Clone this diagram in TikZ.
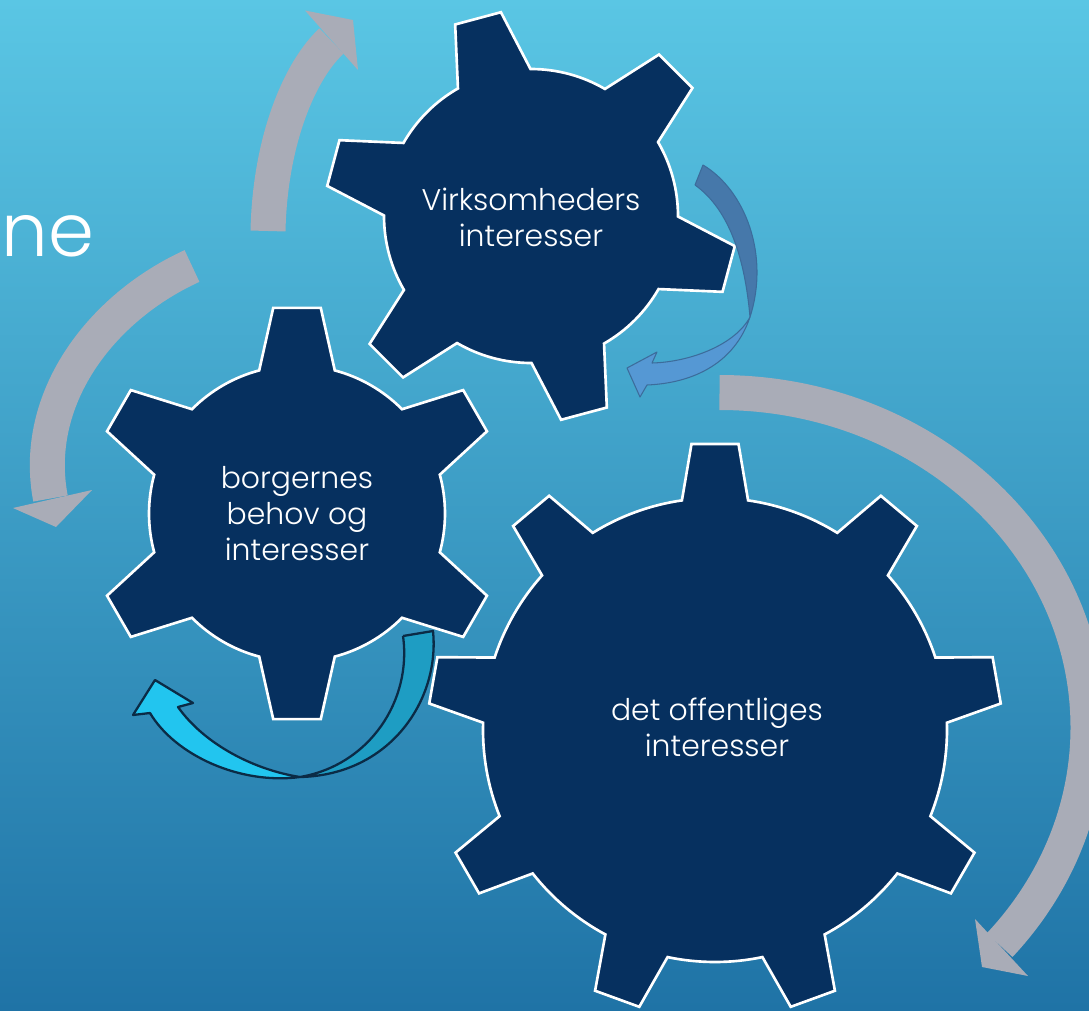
\documentclass[tikz,border=0pt]{standalone}
\usepackage{fontspec}
\setmainfont{Poppins Light}

\definecolor{bgTop}{HTML}{5AC6E4}
\definecolor{bgBot}{HTML}{1F73A6}
\definecolor{gearFill}{HTML}{06305F}
\definecolor{arrowGrey}{HTML}{A9ACB7}
\definecolor{blueBack}{HTML}{4678AA}
\definecolor{blueFront}{HTML}{5598D4}
\definecolor{blueEdge}{HTML}{3C6C9B}
\definecolor{cyanBack}{HTML}{1E9DC3}
\definecolor{cyanFront}{HTML}{22C5EF}
\definecolor{cyanEdge}{HTML}{0B2B46}

\tikzset{
  gearLine/.style={fill=gearFill, draw=white, line width=1.5pt, line join=miter},
  gearText/.style={text=white, align=center, font=\fontsize{17}{20.5}\selectfont},
  greyBand/.style={draw=arrowGrey, line width=0.7cm},
  greyHead/.style={fill=arrowGrey},
  blueTwist/.style={draw=blueEdge, line width=0.6pt, line join=round},
  cyanTwist/.style={draw=cyanEdge, line width=1.3pt, line join=round}
}

% gear: centre, first tooth angle, teeth, root radius, tip radius, base half angle, tip half angle
\newcommand{\drawGear}[7]{
  \begin{scope}[shift={(#1)}]
    \draw[gearLine] ({#2-#6}:#4)
      \foreach \k [evaluate=\k as \a using {#2+(\k-1)*360/#3}] in {1,...,#3} {
        -- ({\a-#6}:#4) -- ({\a-#7}:#5) -- ({\a+#7}:#5) -- ({\a+#6}:#4)
        arc[start angle={\a+#6}, end angle={\a+360/#3-#6}, radius=#4]
      } -- cycle;
  \end{scope}
}

\begin{document}
\begin{tikzpicture}[x=0.02cm, y=-0.02cm]

  % Background:
  \useasboundingbox (0,0) rectangle (1089,1011);
  \shade[top color=bgTop, bottom color=bgBot] (0,0) rectangle (1089,1011);
  \clip (0,0) rectangle (1089,1011);

  % Title rest:
  \node[text=white, anchor=base west, inner sep=0pt, font=\fontsize{42}{50}\selectfont] (titleEnd) at (1,256) {ne};

  % Gears:
  \coordinate (cVirk) at (531,216);
  \coordinate (cBorg) at (297,513.5);
  \coordinate (cOff)  at (715,730);
  \drawGear{cVirk}{255}{6}{147}{206}{14.8}{6.6}
  \drawGear{cBorg}{270}{6}{148}{207}{14.8}{6.6}
  \drawGear{cOff}{270}{9}{232}{287}{8.2}{4.7}

  % Labels:
  \node[gearText] (txtVirk) at (531,217) {Virksomheders\\interesser};
  \node[gearText] (txtBorg) at (297,514) {borgernes\\behov og\\interesser};
  \node[gearText] (txtOff)  at (717,727) {det offentliges\\interesser};

  % Grey arrows:
    % Top:
    \coordinate (upS) at (268,231);
    \coordinate (upE) at (331.5,41);
    \draw[greyBand] (upS) .. controls (270,140) and (300,70) .. (upE);
    \fill[greyHead] (305,10.5) -- (353,20) -- (358,70) -- cycle;
    % Left:
    \coordinate (leftS) at (192,266);
    \coordinate (leftE) at (50.5,498.5);
    \draw[greyBand] (leftS) .. controls (100,308) and (31.5,399.5) .. (leftE);
    \fill[greyHead] (13,508) -- (56,527) -- (92,490) -- cycle;
    % Right:
    \coordinate (rightS) at (719.5,392.5);
    \draw[greyBand] (rightS) arc[start angle=-90, end angle=40.5, x radius=368.5, y radius=335];
    \fill[greyHead] (975,919) -- (982,967) -- (1028,976) -- cycle;

  % Blue twisted arrow:
  \coordinate (blueTw) at (750,317);
  \filldraw[blueTwist, fill=blueFront] (blueTw) .. controls (735,362) and (695,383) .. (647,385)
    -- (640,397) -- (627,368) -- (657,352) -- (652,363) .. controls (690,362) and (735,345) .. (blueTw);
  \filldraw[blueTwist, fill=blueBack] (695,185) -- (703,165) .. controls (745,190) and (770,255) .. (blueTw)
    .. controls (745,260) and (730,210) .. (695,185);

  % Cyan twisted arrow:
  \coordinate (cyanTw) at (300,777);
  \filldraw[cyanTwist, fill=cyanFront] (cyanTw) .. controls (240,785) and (175,755) .. (150,713)
    -- (133,715) -- (155,680) -- (193,703) -- (178,707) .. controls (205,745) and (255,770) .. (cyanTw);
  \filldraw[cyanTwist, fill=cyanBack] (403,636) -- (433,631) .. controls (440,700) and (390,775) .. (cyanTw)
    .. controls (370,765) and (412,700) .. (403,636);

\end{tikzpicture}
\end{document}
